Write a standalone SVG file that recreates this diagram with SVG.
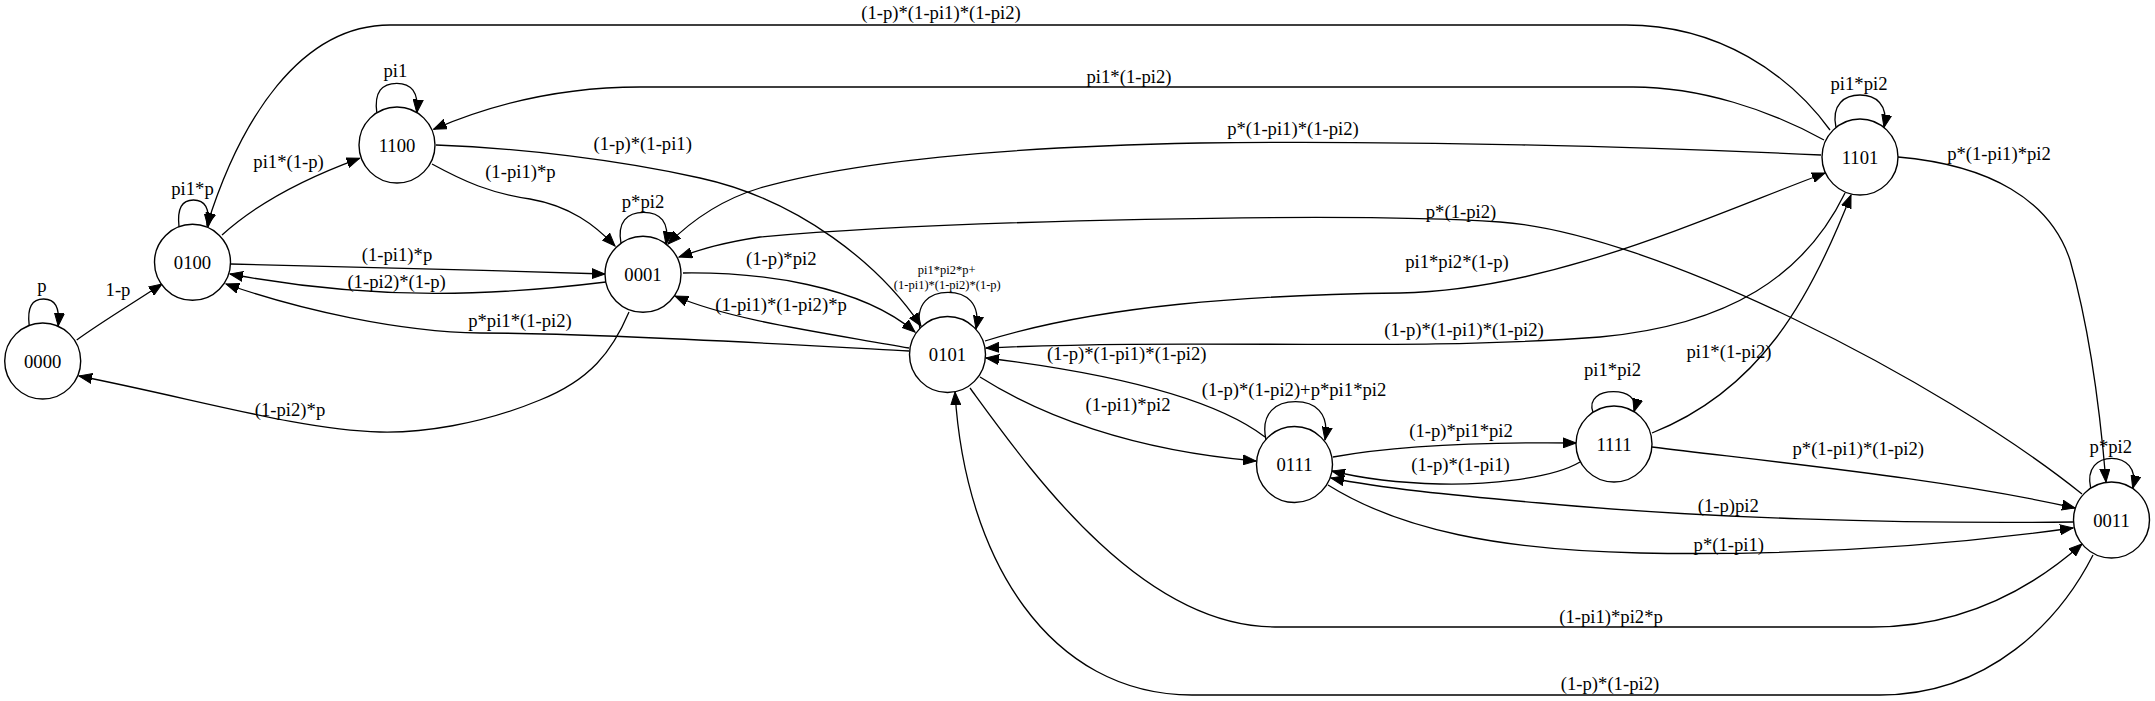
<svg xmlns="http://www.w3.org/2000/svg" width="2155" height="701" viewBox="0 0 2155 701">
<style>
text{font-family:"Liberation Serif","Times New Roman",serif;font-size:18.67px;text-anchor:middle;fill:#000}
.node circle{fill:#fff;stroke:#000;stroke-width:1.4}
#edges path{fill:none;stroke:#000;stroke-width:1.3;marker-end:url(#arr)}
.small{font-size:12.5px}
</style>
<defs>
<marker id="arr" markerUnits="userSpaceOnUse" markerWidth="14" markerHeight="11" refX="13" refY="5.5" orient="auto" viewBox="0 0 14 11">
<path d="M0,0.5 L13,5.5 L0,10.5 z" fill="#000" stroke="#000" stroke-width="1"/>
</marker>
</defs>
<rect width="2155" height="701" fill="#fff"/>
<g id="edges">
<g><path d="M29.2,325.5 C27,307 32,299 43.7,299 C55,299 60,307 58.2,326"/><text x="42" y="292">p</text></g>
<g><path d="M76.7,340 C100,323 130,305 162,284"/><text x="118" y="296">1-p</text></g>
<g><path d="M179,226.8 C177,208 182,200 193.5,200 C205,200 210,208 208,227"/><text x="192.5" y="194.5">pi1*p</text></g>
<g><path d="M222,235 C255,205 300,180 359.6,158.3"/><text x="288.6" y="167.5">pi1*(1-p)</text></g>
<g><path d="M230.5,264 C350,267 480,270 605,274"/><text x="397" y="261">(1-pi1)*p</text></g>
<g><path d="M606,282 C500,295 380,302 230,274"/><text x="396.6" y="287.5">(1-pi2)*(1-p)</text></g>
<g><path d="M909,351 C800,345 600,333 480,333 C400,332 300,310 226,284"/><text x="520" y="327">p*pi1*(1-pi2)</text></g>
<g><path d="M1830,130 C1790,75 1720,25 1626,25 L390,25 C300,25 240,120 207,225.5"/><text x="941" y="18.5">(1-p)*(1-pi1)*(1-pi2)</text></g>
<g><path d="M376.8,112.7 C374,92 382,83.3 396.8,83.3 C411,83.3 419,92 416.8,112.7"/><text x="395.4" y="76.5">pi1</text></g>
<g><path d="M1824,140 C1770,110 1700,87 1633,87 L640,87 C560,87 490,105 433.6,129.3"/><text x="1129" y="82.5">pi1*(1-pi2)</text></g>
<g><path d="M436,145 C520,148 620,160 700,178 C800,200 880,265 921,326"/><text x="642.7" y="150">(1-p)*(1-pi1)</text></g>
<g><path d="M432,164 C465,182 490,193 530,199 C570,206 595,225 615,246"/><text x="520.4" y="178">(1-pi1)*p</text></g>
<g><path d="M621,243.5 C617,222 627,212.3 643.8,212.3 C660,212.3 670,222 666,244.5"/><text x="643" y="207.5">p*pi2</text></g>
<g><path d="M1821,155 C1650,147 1400,140 1200,143 C1000,147 850,162 760,188 C720,200 690,222 668,244"/><text x="1293" y="135">p*(1-pi1)*(1-pi2)</text></g>
<g><path d="M2082,494 C1940,380 1650,232 1500,222 C1350,212 950,220 760,237 C720,243 700,250 679,257"/><text x="1461" y="218">p*(1-pi2)</text></g>
<g><path d="M683,273 C760,272 860,285 915,332"/><text x="781.3" y="264.5">(1-p)*pi2</text></g>
<g><path d="M909,348 C820,332 730,320 675,296"/><text x="781" y="311">(1-pi1)*(1-pi2)*p</text></g>
<g><path d="M629,312 C612,352 590,380 540,400 C480,425 420,433 380,432 C300,430 200,400 79,376"/><text x="290" y="416">(1-pi2)*p</text></g>
<g><path d="M920,328.8 C915,303 930,292.3 948,292.3 C966,292.3 981,303 976,329"/><text class="small" x="946.7" y="274">pi1*pi2*p+</text><text class="small" x="947.3" y="288.5">(1-pi1)*(1-pi2)*(1-p)</text></g>
<g><path d="M985,341 C1100,305 1250,295 1400,293 C1550,290 1700,220 1825,173"/><text x="1457" y="268">pi1*pi2*(1-p)</text></g>
<g><path d="M1845,193 C1805,275 1730,325 1600,337 C1400,352 1200,338 986,348"/><text x="1464" y="336">(1-p)*(1-pi1)*(1-pi2)</text></g>
<g><path d="M1265,437 C1210,395 1100,372 986,358"/><text x="1126.7" y="360">(1-p)*(1-pi1)*(1-pi2)</text></g>
<g><path d="M980,377 C1040,415 1130,450 1256,461"/><text x="1128" y="410.5">(1-pi1)*pi2</text></g>
<g><path d="M1266,440 C1260,412 1277,401.7 1295.5,401.7 C1314,401.7 1330,412 1325,440"/><text x="1294" y="396">(1-p)*(1-pi2)+p*pi1*pi2</text></g>
<g><path d="M1333,457 C1400,445 1480,442 1576,443"/><text x="1461" y="437">(1-p)*pi1*pi2</text></g>
<g><path d="M1580,462 C1550,480 1480,485 1440,484 C1400,483 1360,478 1332,471"/><text x="1460.5" y="470.5">(1-p)*(1-pi1)</text></g>
<g><path d="M1593,412.3 C1588,398 1600,391.7 1613.5,391.7 C1627,391.7 1638,398 1634,411.7"/><text x="1612.5" y="376">pi1*pi2</text></g>
<g><path d="M1652,433 C1760,390 1810,300 1851,195"/><text x="1729" y="358">pi1*(1-pi2)</text></g>
<g><path d="M1652,447 C1800,465 1950,480 2075,508"/><text x="1858.3" y="455">p*(1-pi1)*(1-pi2)</text></g>
<g><path d="M2073,522 C1900,524 1700,518 1540,503 C1450,495 1380,488 1331,478"/><text x="1728.3" y="511.5">(1-p)pi2</text></g>
<g><path d="M1328,485 C1400,530 1500,550 1640,553 C1800,556 1950,545 2073,528"/><text x="1728.8" y="550.5">p*(1-pi1)</text></g>
<g><path d="M970,388 C1030,470 1140,627 1275,627 L1872,627 C1960,627 2030,590 2082,544"/><text x="1611" y="623">(1-pi1)*pi2*p</text></g>
<g><path d="M2093,555 C2060,620 1990,695 1880,695 L1192,695 C1050,695 965,560 955,392"/><text x="1610" y="690">(1-p)*(1-pi2)</text></g>
<g><path d="M1836,127.5 C1831,104 1845,95 1860,95 C1875,95 1889,104 1884,127.5"/><text x="1859" y="90">pi1*pi2</text></g>
<g><path d="M1898,157 C1990,165 2050,200 2070,260 C2090,330 2100,410 2106,482"/><text x="1999" y="160">p*(1-pi1)*pi2</text></g>
<g><path d="M2090.7,488.3 C2086,468 2098,458.3 2111.7,458.3 C2125,458.3 2138,468 2132.7,488.3"/><text x="2110.8" y="453">p*pi2</text></g>
</g>
<g id="n0000" class="node"><circle cx="42.7" cy="361" r="38"/><text x="42.7" y="367.5">0000</text></g>
<g id="n0100" class="node"><circle cx="192.5" cy="262.3" r="38"/><text x="192.5" y="268.8">0100</text></g>
<g id="n1100" class="node"><circle cx="397" cy="145" r="38"/><text x="397" y="151.5">1100</text></g>
<g id="n0001" class="node"><circle cx="643" cy="274.3" r="38"/><text x="643" y="280.8">0001</text></g>
<g id="n0101" class="node"><circle cx="947.5" cy="354.5" r="38"/><text x="947.5" y="361">0101</text></g>
<g id="n0111" class="node"><circle cx="1294.5" cy="464.5" r="38"/><text x="1294.5" y="471">0111</text></g>
<g id="n1111" class="node"><circle cx="1614" cy="444" r="38"/><text x="1614" y="450.5">1111</text></g>
<g id="n1101" class="node"><circle cx="1860" cy="157" r="38"/><text x="1860" y="163.5">1101</text></g>
<g id="n0011" class="node"><circle cx="2111.5" cy="520" r="38"/><text x="2111.5" y="526.5">0011</text></g>
</svg>
